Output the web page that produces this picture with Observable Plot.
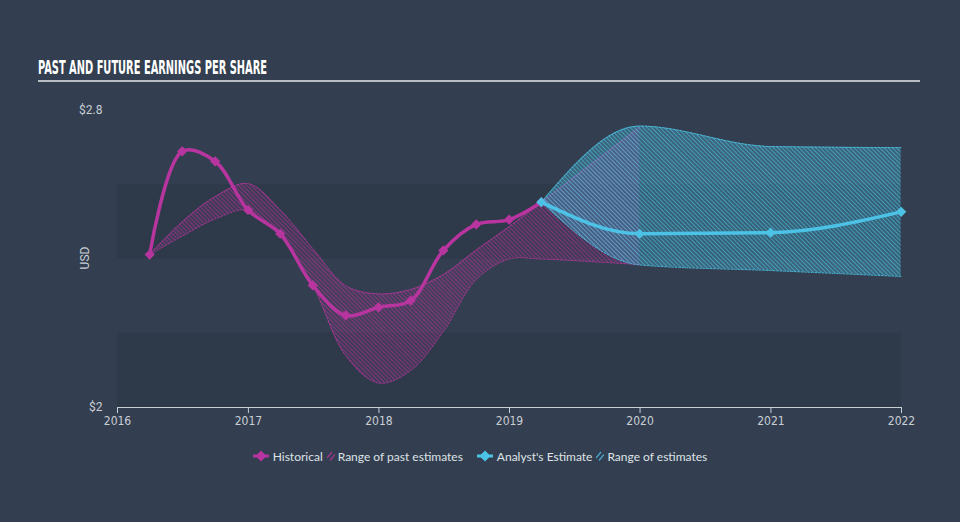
<!DOCTYPE html>
<html>
<head>
<meta charset="utf-8">
<script src="https://cdn.jsdelivr.net/npm/d3@7"></script>
<script src="https://cdn.jsdelivr.net/npm/@observablehq/plot@0.6"></script>
<style>
  html, body { margin: 0; padding: 0; background: #333f50; }
  #wrap { position: relative; width: 960px; height: 522px; overflow: hidden; background: #333f50; }
  #title { position: absolute; left: 38px; top: 57px; font-family: "DejaVu Sans Condensed", "DejaVu Sans"; font-weight: bold; font-size: 20px; line-height: 20px; color: #ffffff; white-space: nowrap; transform-origin: 0 0; }
  #rule { position: absolute; left: 38px; top: 80px; width: 882px; height: 2px; background: #b9bdc3; }
  #usd { position: absolute; left: 85px; top: 258px; font-family: Roboto, sans-serif; font-size: 12px; color: #c9ced5; transform: translate(-50%, -50%) rotate(-90deg); white-space: nowrap; }
  #chart { position: absolute; left: 0; top: 0; }
  #chart svg g[aria-label^="x-axis"] text { font-family: "DejaVu Sans Condensed", "DejaVu Sans"; font-size: 12px; }
  #legend { position: absolute; left: 0; top: 449px; width: 960px; height: 14px; display: flex; justify-content: center; align-items: center; font-family: Lato, sans-serif; font-size: 12px; color: #dfe2e6; }
  #legend .it { display: flex; align-items: center; }
  #legend svg { display: block; }
</style>
</head>
<body>
<div id="wrap">
  <div id="title">PAST AND FUTURE EARNINGS PER SHARE</div>
  <div id="rule"></div>
  <div id="usd">USD</div>
  <div id="chart"></div>
  <div id="legend"></div>
</div>
<script>
// ---------- data ----------
const histDates = ["2016-03-31","2016-06-30","2016-09-30","2016-12-31","2017-03-31","2017-06-30","2017-09-30","2017-12-31","2018-03-31","2018-06-30","2018-09-30","2018-12-31","2019-03-31"];
const histEps   = [2.412, 2.690, 2.663, 2.532, 2.468, 2.329, 2.248, 2.270, 2.288, 2.423, 2.493, 2.506, 2.553];

const pastRangeDates = ["2016-03-31","2016-06-30","2016-09-30","2016-12-31","2017-03-31","2017-06-30","2017-09-30","2017-12-31","2018-03-31","2018-06-30","2018-09-30","2018-12-31","2019-03-31","2019-12-31"];
const pastRangeHigh  = [2.412, 2.500, 2.568, 2.603, 2.532, 2.428, 2.328, 2.306, 2.318, 2.358, 2.424, 2.487, 2.553, 2.755];
const pastRangeLow   = [2.412, 2.462, 2.508, 2.532, 2.462, 2.329, 2.140, 2.066, 2.100, 2.205, 2.345, 2.400, 2.400, 2.385];

const estDates = ["2019-03-31","2019-12-31","2020-12-31","2021-12-31"];
const estEps   = [2.553, 2.468, 2.471, 2.527];
const estHigh  = [2.553, 2.758, 2.703, 2.700];
const estLow   = [2.553, 2.384, 2.369, 2.353];

const xDomain = ["2016-01-01", "2022-01-01"];
const xTickYears = ["2016-01-01","2017-01-01","2018-01-01","2019-01-01","2020-01-01","2021-01-01","2022-01-01"];
const yDomain = [2, 2.8];
const yTickValues = [2, 2.8];
const bandLow  = [2.0, 2.4];
const bandHigh = [2.2, 2.6];

const MAGENTA = "#b8359f";
const CYAN = "#4cc3e6";

// ---------- build tables ----------
const parse = d3.utcParse("%Y-%m-%d");
const hist = histDates.map((d, i) => ({date: parse(d), eps: histEps[i]}));
const pastRange = pastRangeDates.map((d, i) => ({date: parse(d), hi: pastRangeHigh[i], lo: pastRangeLow[i]}));
const est = estDates.map((d, i) => ({date: parse(d), eps: estEps[i], hi: estHigh[i], lo: estLow[i]}));
const xd = xDomain.map(parse);
const bands = bandLow.map((lo, i) => ({x1: xd[0], x2: xd[1], y1: lo, y2: bandHigh[i]}));

const chart = Plot.plot({
  width: 960,
  height: 522,
  marginLeft: 117,
  marginRight: 59,
  marginTop: 110,
  marginBottom: 115,
  style: {background: "transparent", color: "#c9ced5", fontFamily: "Roboto, sans-serif", fontSize: "12px", overflow: "visible"},
  x: {type: "utc", domain: xd, ticks: xTickYears.map(parse), tickFormat: d3.utcFormat("%Y"), tickSize: 6, tickPadding: 3, label: null},
  y: {domain: yDomain, ticks: yTickValues, tickFormat: d => "$" + d, tickSize: 0, tickPadding: 15, label: null},
  marks: [
    Plot.rect(bands, {x1: "x1", x2: "x2", y1: "y1", y2: "y2", fill: "#2e3a4a"}),
    Plot.ruleY([yDomain[0]], {stroke: "#c9ced5", strokeWidth: 1}),
    Plot.areaY(pastRange, {x: "date", y1: "lo", y2: "hi", curve: "catmull-rom", fill: "url(#hatchPast)"}),
    Plot.line(pastRange, {x: "date", y: "hi", curve: "catmull-rom", stroke: MAGENTA, strokeWidth: 1, strokeDasharray: "2,1.5", strokeOpacity: 0.9}),
    Plot.line(pastRange, {x: "date", y: "lo", curve: "catmull-rom", stroke: MAGENTA, strokeWidth: 1, strokeDasharray: "2,1.5", strokeOpacity: 0.9}),
    Plot.areaY(est, {x: "date", y1: "lo", y2: "hi", curve: "monotone-x", fill: "url(#hatchEst)"}),
    Plot.line(est, {x: "date", y: "hi", curve: "monotone-x", stroke: CYAN, strokeWidth: 1, strokeDasharray: "2,1.5", strokeOpacity: 0.9}),
    Plot.line(est, {x: "date", y: "lo", curve: "monotone-x", stroke: CYAN, strokeWidth: 1, strokeDasharray: "2,1.5", strokeOpacity: 0.9}),
    Plot.line(hist, {x: "date", y: "eps", curve: "catmull-rom", stroke: MAGENTA, strokeWidth: 3.5}),
    Plot.dot(hist, {x: "date", y: "eps", symbol: "diamond2", r: 4.6, fill: MAGENTA, stroke: "none"}),
    Plot.line(est, {x: "date", y: "eps", curve: "monotone-x", stroke: CYAN, strokeWidth: 3.5}),
    Plot.dot(est, {x: "date", y: "eps", symbol: "diamond2", r: 4.6, fill: CYAN, stroke: "none"})
  ]
});

// hatch patterns
const defs = document.createElementNS("http://www.w3.org/2000/svg", "defs");
defs.innerHTML = `
  <pattern id="hatchPast" patternUnits="userSpaceOnUse" width="3" height="3" patternTransform="rotate(-45)">
    <rect width="3" height="3" fill="${MAGENTA}" fill-opacity="0.10"></rect>
    <line x1="1.5" y1="0" x2="1.5" y2="3" stroke="${MAGENTA}" stroke-width="1.1" stroke-opacity="0.55"></line>
  </pattern>
  <pattern id="hatchEst" patternUnits="userSpaceOnUse" width="3" height="3" patternTransform="rotate(-45)">
    <rect width="3" height="3" fill="${CYAN}" fill-opacity="0.26"></rect>
    <line x1="1.5" y1="0" x2="1.5" y2="3" stroke="${CYAN}" stroke-width="1.1" stroke-opacity="0.6"></line>
  </pattern>`;
chart.insertBefore(defs, chart.firstChild);
document.getElementById("chart").appendChild(chart);

// title scaling to match condensed display face
const title = document.getElementById("title");
const tw = title.getBoundingClientRect().width;
title.style.transform = `scaleX(${229 / tw})`;

// legend
const legendItems = [
  {kind: "line", color: MAGENTA, text: "Historical"},
  {kind: "hatch", color: MAGENTA, text: "Range of past estimates"},
  {kind: "line", color: CYAN, text: "Analyst's Estimate"},
  {kind: "hatch", color: CYAN, text: "Range of estimates"}
];
const legend = document.getElementById("legend");
legendItems.forEach((it, i) => {
  const el = document.createElement("div");
  el.className = "it";
  el.style.marginLeft = i === 0 ? "0" : (i === 2 ? "14px" : "4px");
  let sym;
  if (it.kind === "line") {
    sym = `<svg width="16" height="12"><line x1="0" y1="6" x2="16" y2="6" stroke="${it.color}" stroke-width="3"/><path d="M8,0.5L13.5,6L8,11.5L2.5,6Z" fill="${it.color}"/></svg>`;
  } else {
    sym = `<svg width="8" height="10"><line x1="0" y1="7" x2="5" y2="1" stroke="${it.color}" stroke-width="1.3" stroke-opacity="0.8"/><line x1="3" y1="9.5" x2="8" y2="3.5" stroke="${it.color}" stroke-width="1.3" stroke-opacity="0.8"/></svg>`;
  }
  el.innerHTML = sym + `<span style="margin-left:${it.kind === "line" ? 4 : 3}px">${it.text}</span>`;
  legend.appendChild(el);
});
</script>
</body>
</html>
